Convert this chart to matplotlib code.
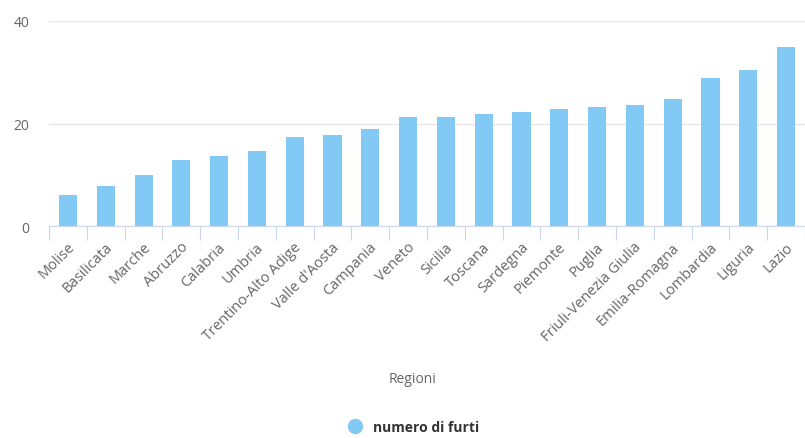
import matplotlib.pyplot as plt
from matplotlib.lines import Line2D
import numpy as np

regioni = ['Molise', 'Basilicata', 'Marche', 'Abruzzo', 'Calabria', 'Umbria',
           'Trentino-Alto Adige', "Valle d'Aosta", 'Campania', 'Veneto', 'Sicilia',
           'Toscana', 'Sardegna', 'Piemonte', 'Puglia', 'Friuli-Venezia Giulia',
           'Emilia-Romagna', 'Lombardia', 'Liguria', 'Lazio']
furti = [6.2, 7.8, 10.0, 12.9, 13.8, 14.6, 17.5, 17.8, 18.9, 21.3, 21.3,
         21.8, 22.3, 22.9, 23.2, 23.7, 24.8, 28.8, 30.5, 35.0]

bar_color = '#82c9f6'
text_color = '#666666'
font_size = 10

plt.rcParams['font.family'] = ['Open Sans', 'DejaVu Sans']

fig = plt.figure(figsize=(8.05, 4.39), dpi=100)
ax = fig.add_axes([0.061, 0.482, 0.939, 0.468])

x = np.arange(len(regioni))
ax.bar(x, furti, width=0.48, color=bar_color, zorder=3)

ax.set_xlim(-0.5, len(regioni) - 0.5)
ax.set_ylim(0, 40)
ax.set_yticks([0, 20, 40])
ax.grid(axis='y', color='#e6e6e6', linewidth=1, zorder=0)

for side in ['top', 'right', 'left']:
    ax.spines[side].set_visible(False)
ax.spines['bottom'].set_color('#ccd6eb')

# tick marks sit between categories, labels at centers
ax.set_xticks(np.arange(len(regioni) + 1) - 0.5)
ax.set_xticklabels([])
ax.tick_params(axis='x', which='major', length=10, color='#ccd6eb', direction='out')
ax.set_xticks(x + 0.12, minor=True)
ax.set_xticklabels(regioni, minor=True, rotation=45, ha='right', va='center',
                   rotation_mode='anchor', fontsize=10.5, color=text_color)
ax.tick_params(axis='x', which='minor', length=0, pad=13)
ax.tick_params(axis='y', length=0, labelsize=font_size, labelcolor=text_color, pad=14)

fig.text(0.512, 0.135, 'Regioni', ha='center', va='center',
         fontsize=font_size, color=text_color)

handle = Line2D([], [], marker='o', linestyle='none', markersize=10,
                color=bar_color)
fig.legend([handle], ['numero di furti'], loc='center', bbox_to_anchor=(0.51, 0.025),
           frameon=False, handletextpad=0.3,
           prop={'weight': 'bold', 'size': font_size})
for t in fig.legends[0].get_texts():
    t.set_color('#333333')

fig.savefig('out.png', dpi=100)
